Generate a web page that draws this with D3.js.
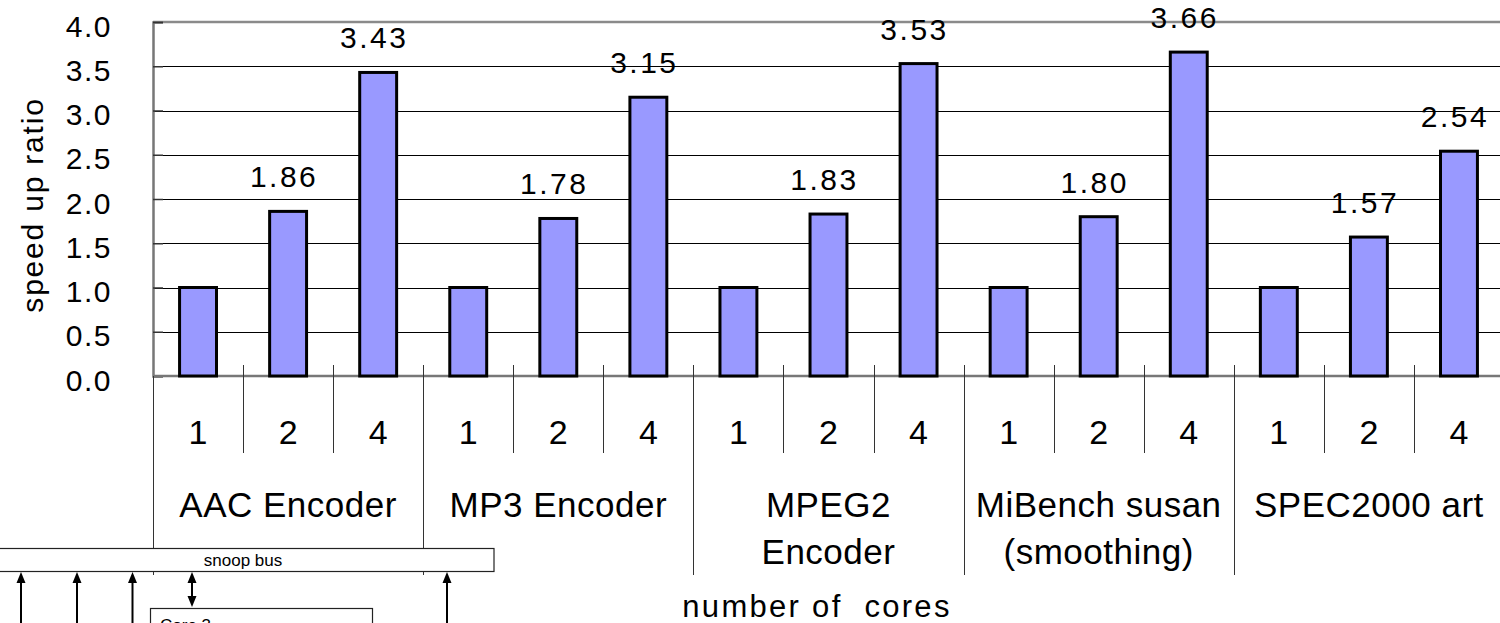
<!DOCTYPE html>
<html><head><meta charset="utf-8">
<script src="https://cdn.jsdelivr.net/npm/d3@7"></script>
<style>
html,body{margin:0;padding:0;background:#fff;overflow:hidden}
svg{display:block}
text{font-family:"Liberation Sans",Arial,sans-serif;fill:#000}
</style></head>
<body>
<svg id="c" width="1500" height="623"></svg>
<script>
// ---- data ----
const groups = ["AAC Encoder", "MP3 Encoder", "MPEG2\nEncoder", "MiBench susan\n(smoothing)", "SPEC2000 art"];
const cores = ["1", "2", "4"];
const aacValues = [1.00, 1.86, 3.43];
const mp3Values = [1.00, 1.78, 3.15];
const mpeg2Values = [1.00, 1.83, 3.53];
const susanValues = [1.00, 1.80, 3.66];
const artValues = [1.00, 1.57, 2.54];
const yTicks = [0, 0.5, 1, 1.5, 2, 2.5, 3, 3.5, 4];
const yTitle = "speed up ratio";
const xTitle = "number of  cores";

const seriesByGroup = [aacValues, mp3Values, mpeg2Values, susanValues, artValues];
const rows = [];
groups.forEach((g, gi) => cores.forEach((c, ci) => rows.push({key: gi + "-" + ci, group: g, gi, core: c, ci, value: seriesByGroup[gi][ci]})));

// ---- layout ----
const L = 153, R = 1504, T = 22, B = 376;
const svg = d3.select("#c");

const x = d3.scaleBand().domain(rows.map(d => d.key)).range([L, R]).paddingInner(0.59).paddingOuter(0.295);
const cell = d3.scaleBand().domain(rows.map(d => d.key)).range([L, R]).padding(0);
const y = d3.scaleLinear().domain([0, 4]).range([B, T]);

// gridlines
svg.append("g").selectAll("line").data(yTicks.filter(t => t > 0 && t < 4)).join("line")
  .attr("x1", L).attr("x2", R).attr("y1", d => Math.round(y(d)) + 0.5).attr("y2", d => Math.round(y(d)) + 0.5)
  .attr("stroke", "#000").attr("stroke-width", 1);

// top border
svg.append("line").attr("x1", L).attr("x2", R).attr("y1", y(4)).attr("y2", y(4))
  .attr("stroke", "#8a8a8a").attr("stroke-width", 2.5);

// y axis
const yAxis = d3.axisLeft(y).tickValues(yTicks).tickSize(-10).tickPadding(41).tickFormat(d3.format(".1f"));
const ga = svg.append("g").attr("transform", `translate(${L},0)`).call(yAxis);
ga.select(".domain").attr("stroke", "#777").attr("stroke-width", 2.5);
ga.selectAll(".tick line").attr("stroke", "#333").attr("stroke-width", 1.5);
ga.selectAll(".tick text").attr("font-size", 30).attr("letter-spacing", 1.5)
  .attr("font-family", "Liberation Sans, Arial, sans-serif").attr("dy", 14).attr("fill", "#000");

// bottom axis line
svg.append("line").attr("x1", L).attr("x2", R).attr("y1", B).attr("y2", B)
  .attr("stroke", "#777").attr("stroke-width", 2.5);

// category separators
const sepTops = B - 11;
const innerSeps = rows.filter(d => d.ci > 0);
svg.append("g").selectAll("line").data(innerSeps).join("line")
  .attr("x1", d => Math.round(cell(d.key)) + 0.5).attr("x2", d => Math.round(cell(d.key)) + 0.5)
  .attr("y1", sepTops).attr("y2", 453).attr("stroke", "#333").attr("stroke-width", 1);
const groupSeps = rows.filter(d => d.ci === 0);
svg.append("g").selectAll("line").data(groupSeps).join("line")
  .attr("x1", d => Math.round(cell(d.key)) + 0.5).attr("x2", d => Math.round(cell(d.key)) + 0.5)
  .attr("y1", d => d.gi === 0 ? B : sepTops).attr("y2", 575).attr("stroke", "#333").attr("stroke-width", 1);

// bars
svg.append("g").selectAll("rect").data(rows).join("rect")
  .attr("x", d => x(d.key)).attr("width", x.bandwidth())
  .attr("y", d => y(d.value)).attr("height", d => y(0) - y(d.value))
  .attr("fill", "#9999ff").attr("stroke", "#000").attr("stroke-width", 3);

// value labels (not on 1-core bars)
svg.append("g").selectAll("text").data(rows.filter(d => d.ci > 0)).join("text")
  .attr("x", d => x(d.key) + x.bandwidth() / 2 - 4).attr("y", d => y(d.value) - 24)
  .attr("text-anchor", "middle").attr("font-size", 30).attr("letter-spacing", 2.5)
  .text(d => d.value.toFixed(2));

// core labels
svg.append("g").selectAll("text").data(rows).join("text")
  .attr("x", d => cell(d.key) + cell.bandwidth() / 2).attr("y", 444)
  .attr("text-anchor", "middle").attr("font-size", 34).text(d => d.core);

// group labels
const gl = svg.append("g").selectAll("text").data(groupSeps).join("text")
  .attr("x", d => cell(d.key) + cell.bandwidth() * 1.5).attr("y", 517)
  .attr("text-anchor", "middle").attr("font-size", 35).attr("letter-spacing", 0.5);
gl.each(function(d) {
  const lines = d.group.split("\n");
  d3.select(this).selectAll("tspan").data(lines).join("tspan")
    .attr("x", cell(d.key) + cell.bandwidth() * 1.5).attr("dy", (l, i) => i === 0 ? 0 : 47).text(l => l);
});

// axis titles
svg.append("text").attr("transform", `translate(43,${(T + B) / 2 + 6}) rotate(-90)`)
  .attr("text-anchor", "middle").attr("font-size", 30).attr("letter-spacing", 1.8).text(yTitle);
svg.append("text").attr("x", 817).attr("y", 617).attr("text-anchor", "middle")
  .attr("font-size", 31).attr("letter-spacing", 2.3).attr("xml:space", "preserve")
  .style("white-space", "pre").text(xTitle);

// ---- overlapping diagram fragment (bottom-left) ----
const ov = svg.append("g");
const arrowXs = [21, 77, 132.5, 447];
const busTop = 548, busBot = 571;
ov.append("rect").attr("x", -2).attr("y", busTop + 0.5).attr("width", 496).attr("height", busBot - busTop)
  .attr("fill", "#fff").attr("stroke", "#222").attr("stroke-width", 1.2);
ov.append("text").attr("x", 243).attr("y", 566).attr("text-anchor", "middle")
  .attr("font-size", 17).text("snoop bus");
function head(xc, yTip, dir) {
  ov.append("path").attr("d", `M${xc},${yTip} L${xc - 4.5},${yTip + dir * 11} L${xc + 4.5},${yTip + dir * 11} Z`).attr("fill", "#000");
}
arrowXs.forEach(xc => {
  ov.append("line").attr("x1", xc).attr("x2", xc).attr("y1", busBot + 8).attr("y2", 623).attr("stroke", "#000").attr("stroke-width", 2);
  head(xc, busBot + 1, 1);
});
ov.append("line").attr("x1", 192).attr("x2", 192).attr("y1", busBot + 8).attr("y2", 600).attr("stroke", "#000").attr("stroke-width", 2);
head(192, busBot + 1, 1);
head(192, 607, -1);
ov.append("rect").attr("x", 150.5).attr("y", 608.5).attr("width", 222).attr("height", 30)
  .attr("fill", "#fff").attr("stroke", "#222").attr("stroke-width", 1.2);
ov.append("text").attr("x", 160).attr("y", 631).attr("font-size", 17).text("Core 3");
</script>
</body></html>
